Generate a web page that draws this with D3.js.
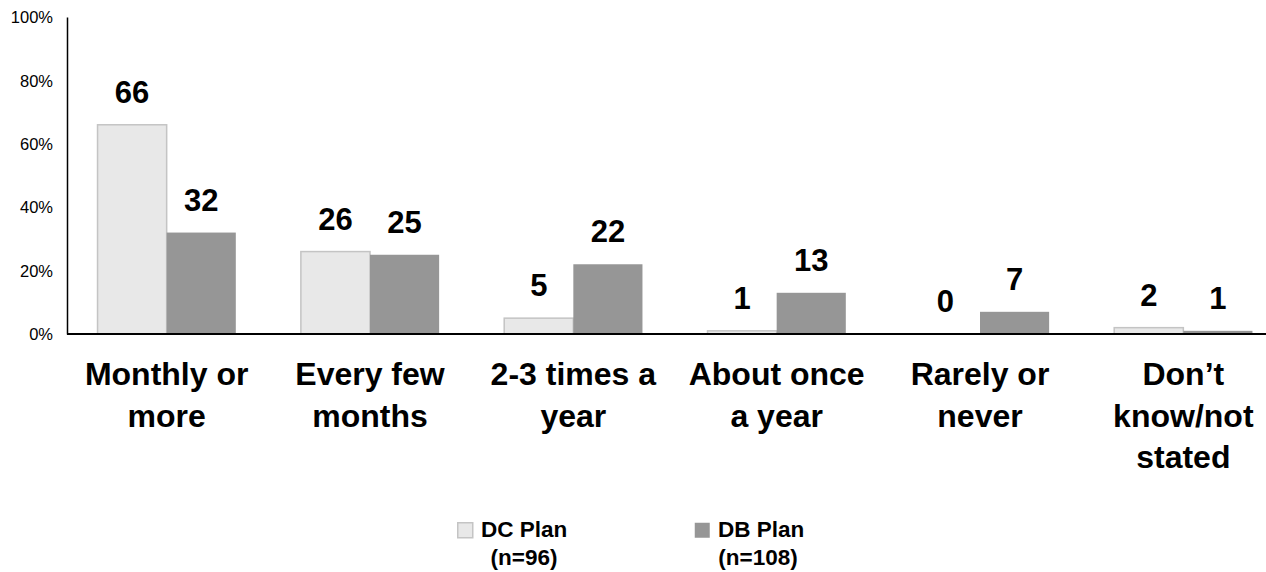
<!DOCTYPE html>
<html>
<head>
<meta charset="utf-8">
<script src="https://cdn.jsdelivr.net/npm/d3@7/dist/d3.min.js"></script>
<style>
  body { margin: 0; background: #fff; }
  text { font-family: Arial, "Liberation Sans", sans-serif; fill: #000; }
</style>
</head>
<body>
<div id="chart"></div>
<script>
// categories (each label split into lines) and the two series
var categories = [
    ["Monthly or", "more"],
    ["Every few", "months"],
    ["2-3 times a", "year"],
    ["About once", "a year"],
    ["Rarely or", "never"],
    ["Don\u2019t", "know/not", "stated"]
];
var seriesNames = ["DC Plan", "DB Plan"];
var seriesN = ["(n=96)", "(n=108)"];
var dcValues = [66, 26, 5, 1, 0, 2];
var dbValues = [32, 25, 22, 13, 7, 1];
var yTicks = [0, 20, 40, 60, 80, 100];

var colors = { "DC Plan": "#e8e8e8", "DB Plan": "#969696" };

var width = 1266, height = 572;

var svg = d3.select("#chart").append("svg")
    .attr("width", width)
    .attr("height", height);

// scales (plot runs past the right edge, as in the original)
var x0 = d3.scaleBand()
    .domain(d3.range(categories.length))
    .range([65, 1285])
    .paddingInner(0.32)
    .paddingOuter(0.16);

var x1 = d3.scaleBand()
    .domain(seriesNames)
    .range([0, x0.bandwidth()]);

var y = d3.scaleLinear()
    .domain([0, 100])
    .range([334, 17]);

var rows = categories.map(function(c, i) {
    return [
        { key: "DC Plan", i: i, value: dcValues[i] },
        { key: "DB Plan", i: i, value: dbValues[i] }
    ];
});

// y axis labels
var yAxis = d3.axisLeft(y)
    .tickValues(yTicks)
    .tickSize(0)
    .tickPadding(14)
    .tickFormat(function(d) { return d + "%"; });

var gy = svg.append("g")
    .attr("transform", "translate(67,0)")
    .call(yAxis);
gy.select(".domain").attr("stroke", "#000").attr("stroke-width", 1.5);
gy.selectAll("text")
    .style("font-size", "16.5px")
    .attr("dy", "0.35em");

// bars
var groups = svg.selectAll(".group")
    .data(rows)
    .enter().append("g")
    .attr("class", "group")
    .attr("transform", function(d, i) { return "translate(" + x0(i) + ",0)"; });

groups.selectAll("rect")
    .data(function(d) { return d; })
    .enter().append("rect")
    .attr("x", function(d) { return x1(d.key); })
    .attr("y", function(d) { return y(d.value); })
    .attr("width", x1.bandwidth())
    .attr("height", function(d) { return y(0) - y(d.value); })
    .attr("fill", function(d) { return colors[d.key]; })
    .attr("stroke", function(d) { return d.key == "DC Plan" && d.value > 0 ? "#c4c4c4" : "none"; })
    .attr("stroke-width", 1.5);

groups.selectAll(".val")
    .data(function(d) { return d; })
    .enter().append("text")
    .attr("class", "val")
    .attr("x", function(d) { return x1(d.key) + x1.bandwidth() / 2; })
    .attr("y", function(d) { return y(d.value) - 22; })
    .attr("text-anchor", "middle")
    .style("font-size", "31px")
    .style("font-weight", "bold")
    .text(function(d) { return d.value; });

// x axis line
svg.append("line")
    .attr("x1", 67)
    .attr("x2", width)
    .attr("y1", y(0))
    .attr("y2", y(0))
    .attr("stroke", "#000")
    .attr("stroke-width", 2);

// category labels
var catLabels = svg.selectAll(".cat")
    .data(categories)
    .enter().append("text")
    .attr("class", "cat")
    .attr("text-anchor", "middle")
    .style("font-size", "32px")
    .style("font-weight", "bold");

catLabels.selectAll("tspan")
    .data(function(d, i) { return d.map(function(t) { return { t: t, i: i }; }); })
    .enter().append("tspan")
    .attr("x", function(d) { return x0(d.i) + x0.bandwidth() / 2; })
    .attr("y", function(d, j) { return 385 + j * 41.5; })
    .text(function(d) { return d.t; });

// legend
var legendX = [457, 694];
var legend = svg.selectAll(".legend")
    .data(seriesNames)
    .enter().append("g")
    .attr("class", "legend")
    .attr("transform", function(d, i) { return "translate(" + legendX[i] + ",522)"; });

legend.append("rect")
    .attr("x", 0.75)
    .attr("y", 0.75)
    .attr("width", 15)
    .attr("height", 15)
    .attr("fill", function(d) { return colors[d]; })
    .attr("stroke", function(d, i) { return i == 0 ? "#c4c4c4" : "none"; })
    .attr("stroke-width", 1.5);

legend.append("text")
    .attr("x", 24)
    .attr("y", 15)
    .style("font-size", "22.5px")
    .style("font-weight", "bold")
    .text(function(d) { return d; });

legend.append("text")
    .attr("x", function(d, i) { return i == 0 ? 67 : 64; })
    .attr("y", 43)
    .attr("text-anchor", "middle")
    .style("font-size", "22.5px")
    .style("font-weight", "bold")
    .text(function(d, i) { return seriesN[i]; });
</script>
</body>
</html>
